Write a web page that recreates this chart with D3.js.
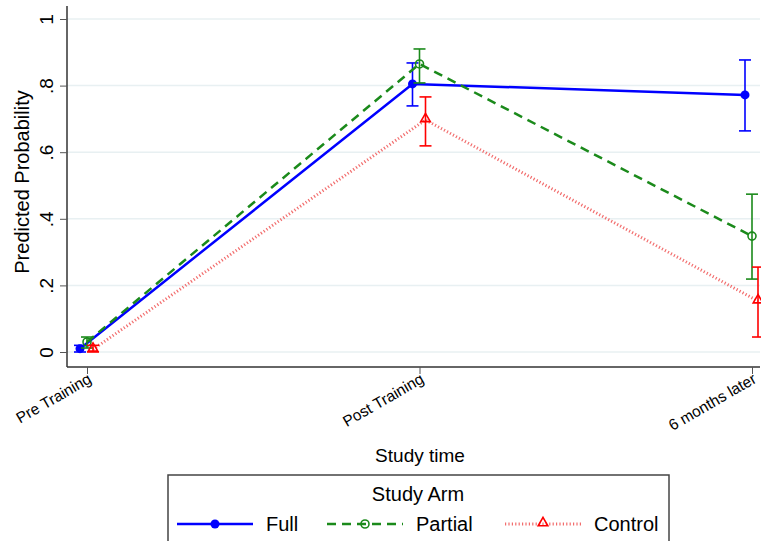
<!DOCTYPE html>
<html>
<head>
<meta charset="utf-8">
<script src="https://cdn.jsdelivr.net/npm/d3@7"></script>
<style>
  body { margin: 0; background: #fff; }
  svg { font-family: "Liberation Sans", Arial, sans-serif; }
</style>
</head>
<body>
<svg id="chart" width="761" height="541"></svg>
<script>
// study time points
var times = ["Pre Training", "Post Training", "6 months later"];
var yTicks = [0, 0.2, 0.4, 0.6, 0.8, 1];
var yTickLabels = ["0", ".2", ".4", ".6", ".8", "1"];

// predicted probabilities + CI per arm
var fullVals = [0.01, 0.805, 0.772];
var fullLo = [0.0, 0.739, 0.664];
var fullHi = [0.02, 0.868, 0.877];

var partialVals = [0.03, 0.865, 0.348];
var partialLo = [0.012, 0.808, 0.219];
var partialHi = [0.045, 0.91, 0.474];

var controlVals = [0.008, 0.697, 0.153];
var controlLo = [0.0, 0.619, 0.045];
var controlHi = [0.02, 0.766, 0.255];

var arms = [
  { name: "Full", vals: fullVals, lo: fullLo, hi: fullHi, color: "#0000ff", lineColor: "#0000ff", dash: null, width: 2.5, marker: "dot", off: -7 },
  { name: "Partial", vals: partialVals, lo: partialLo, hi: partialHi, color: "#1b8a1b", lineColor: "#1b8a1b", dash: "9,6", width: 2.5, marker: "circle", off: 0 },
  { name: "Control", vals: controlVals, lo: controlLo, hi: controlHi, color: "#ff0000", lineColor: "#f26d6d", dash: "1.2,2.2", width: 3, marker: "triangle", off: 6 }
];

var svg = d3.select("#chart");
var margin = { top: 6, right: 1, bottom: 174, left: 67 };
var width = 761 - margin.left - margin.right;
var height = 541 - margin.top - margin.bottom;

var g = svg.append("g")
  .attr("transform", "translate(" + margin.left + "," + margin.top + ")");

var x = d3.scalePoint().domain(times).range([20, 685]);
var y = d3.scaleLinear().domain([0, 1]).range([346, 13]);

// grid
g.selectAll(".grid")
  .data(yTicks)
  .enter().append("line")
  .attr("x1", 0).attr("x2", width)
  .attr("y1", function(d) { return y(d); })
  .attr("y2", function(d) { return y(d); })
  .attr("stroke", "#e8f0f2")
  .attr("stroke-width", 1.5);

// axes
var yAxis = g.append("g")
  .call(d3.axisLeft(y).tickValues(yTicks).tickFormat(function(d, i) { return yTickLabels[i]; }).tickSize(7).tickSizeOuter(0));
yAxis.select(".domain").attr("d", "M0,0V" + height).attr("stroke", "#333").attr("stroke-width", 1.5);
yAxis.selectAll(".tick line").attr("stroke", "#555");
yAxis.selectAll(".tick text")
  .attr("transform", "rotate(-90)")
  .attr("x", 0).attr("y", -14).attr("dy", "0")
  .attr("text-anchor", "middle")
  .style("font-size", "19px").attr("fill", "#000");

var xAxis = g.append("g")
  .attr("transform", "translate(0," + height + ")")
  .call(d3.axisBottom(x).tickSize(7).tickSizeOuter(0));
xAxis.select(".domain").attr("d", "M0,0H" + width).attr("stroke", "#333").attr("stroke-width", 1.5);
xAxis.selectAll(".tick line").attr("stroke", "#555");
xAxis.selectAll(".tick text")
  .attr("text-anchor", "end")
  .attr("x", 0).attr("y", 0).attr("dy", 0)
  .attr("transform", "translate(5,15) rotate(-30)")
  .style("font-size", "15.5px").attr("fill", "#000");

// axis titles
svg.append("text")
  .attr("transform", "translate(29,182) rotate(-90)")
  .attr("text-anchor", "middle")
  .style("font-size", "20px")
  .text("Predicted Probability");

svg.append("text")
  .attr("x", 420).attr("y", 462)
  .attr("text-anchor", "middle")
  .style("font-size", "19px")
  .text("Study time");

// lines
var line = d3.line()
  .x(function(d) { return d.x; })
  .y(function(d) { return y(d.v); });

arms.forEach(function(a) {
  var pts = a.vals.map(function(v, i) { return { x: x(times[i]) + a.off, v: v, lo: a.lo[i], hi: a.hi[i] }; });

  g.append("path")
    .datum(pts)
    .attr("d", line)
    .attr("fill", "none")
    .attr("stroke", a.lineColor)
    .attr("stroke-width", a.width)
    .attr("stroke-dasharray", a.dash);

  // error bars
  var eb = g.append("g").attr("stroke", a.color).attr("stroke-width", 1.6);
  pts.forEach(function(p) {
    eb.append("line").attr("x1", p.x).attr("x2", p.x).attr("y1", y(p.lo)).attr("y2", y(p.hi));
    eb.append("line").attr("x1", p.x - 6).attr("x2", p.x + 6).attr("y1", y(p.lo)).attr("y2", y(p.lo));
    eb.append("line").attr("x1", p.x - 6).attr("x2", p.x + 6).attr("y1", y(p.hi)).attr("y2", y(p.hi));
  });

  pts.forEach(function(p) {
    drawMarker(g, a, p.x, y(p.v));
  });
});

function drawMarker(sel, a, cx, cy) {
  if (a.marker == "dot") {
    sel.append("circle").attr("cx", cx).attr("cy", cy).attr("r", 4.5).attr("fill", a.color);
  } else if (a.marker == "circle") {
    sel.append("circle").attr("cx", cx).attr("cy", cy).attr("r", 4).attr("fill", "none")
      .attr("stroke", a.color).attr("stroke-width", 1.6);
  } else {
    sel.append("path")
      .attr("d", d3.symbol().type(d3.symbolTriangle).size(40))
      .attr("transform", "translate(" + cx + "," + (cy - 1) + ")")
      .attr("fill", "none").attr("stroke", a.color).attr("stroke-width", 1.6);
  }
}

// legend
var lg = svg.append("g");
lg.append("rect")
  .attr("x", 168).attr("y", 475).attr("width", 501).attr("height", 80)
  .attr("fill", "#fff").attr("stroke", "#444").attr("stroke-width", 1.5);
lg.append("text")
  .attr("x", 418).attr("y", 501)
  .attr("text-anchor", "middle")
  .style("font-size", "20px")
  .text("Study Arm");

var legendX = [177, 327, 505];
arms.forEach(function(a, i) {
  var lx = legendX[i];
  var ly = 524;
  lg.append("line")
    .attr("x1", lx).attr("x2", lx + 76).attr("y1", ly).attr("y2", ly)
    .attr("stroke", a.lineColor)
    .attr("stroke-width", a.width)
    .attr("stroke-dasharray", a.dash);
  drawMarker(lg, a, lx + 38, ly);
  lg.append("text")
    .attr("x", lx + 89).attr("y", ly + 7)
    .style("font-size", "20px")
    .text(a.name);
});
</script>
</body>
</html>
